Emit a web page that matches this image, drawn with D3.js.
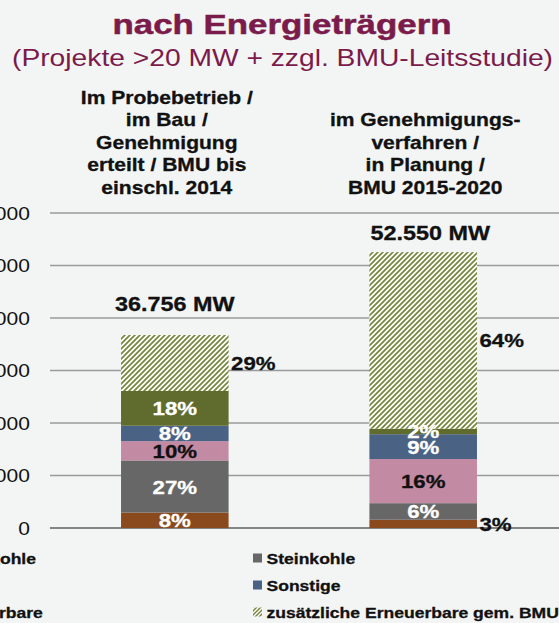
<!DOCTYPE html>
<html>
<head>
<meta charset="utf-8">
<script src="https://cdn.jsdelivr.net/npm/d3@7/dist/d3.min.js"></script>
<style>
  html, body { margin: 0; padding: 0; background: #f3f5f4; }
  svg { display: block; font-family: "Liberation Sans", Arial, Helvetica, sans-serif; }
</style>
</head>
<body>
<svg id="chart" width="559" height="623"></svg>
<script>
'use strict';

// data
var categories = ['bis2014', '2015-2020'];
var headerLines = [
  ['Im Probebetrieb /', 'im Bau /', 'Genehmigung', 'erteilt / BMU bis', 'einschl. 2014'],
  ['im Genehmigungs-', 'verfahren /', 'in Planung /', 'BMU 2015-2020']
];
var seriesNames = ['Braunkohle', 'Steinkohle', 'Erdgas', 'Sonstige', 'Erneuerbare', 'zusätzliche Erneuerbare gem. BMU'];
var braunkohle  = [2940, 1577];
var steinkohle  = [9924, 3153];
var erdgas      = [3676, 8408];
var sonstige    = [2940, 4730];
var erneuerbare = [6616, 1051];
var zusaetzlich = [10660, 33631];
var yTicks = [0, 10000, 20000, 30000, 40000, 50000, 60000];

var seriesValues = [braunkohle, steinkohle, erdgas, sonstige, erneuerbare, zusaetzlich];
var colors = ['#8a4a1e', '#666766', '#c38aa4', '#4a6384', '#5f6c2e', 'url(#hatch)'];
var legendColors = ['#8a4a1e', '#666766', '#c38aa4', '#4a6384', '#5f6c2e', 'url(#hatchSmall)'];
// which segment labels sit to the right of the bar
var outside = [[5], [0, 5]];

var SX = 1.17; // source text is stretched horizontally
var W = 559, H = 623;
var svg = d3.select('#chart');
var de = d3.formatLocale({decimal: ',', thousands: '.', grouping: [3], currency: ['', '']});
var fmt = de.format(',');

var defs = svg.append('defs');
function hatch(id, size, sw){
  var p = defs.append('pattern').attr('id', id)
    .attr('patternUnits', 'userSpaceOnUse').attr('width', size).attr('height', size);
  p.append('rect').attr('width', size).attr('height', size).attr('fill', '#ffffff');
  p.append('path')
    .attr('d', 'M0,' + size + ' L' + size + ',0 M' + (-size / 2) + ',' + (size / 2) + ' L' + (size / 2) + ',' + (-size / 2) +
      ' M' + (size / 2) + ',' + (size * 1.5) + ' L' + (size * 1.5) + ',' + (size / 2))
    .attr('stroke', '#76873d').attr('stroke-width', sw);
}
hatch('hatch', 5, 1.75);
hatch('hatchSmall', 4, 1.5);
defs.append('clipPath').attr('id', 'plotClip')
  .append('rect').attr('x', 0).attr('y', 0).attr('width', W).attr('height', 528);

svg.append('rect').attr('width', W).attr('height', H).attr('fill', '#f3f5f4');

// stretched text helper
function txt(parent, x, y, s, size, weight, fill, anchor){
  var t = parent.append('text')
    .attr('transform', 'translate(' + x + ',' + y + ') scale(' + SX + ',1)')
    .attr('font-size', size).attr('font-weight', weight)
    .attr('fill', fill).attr('text-anchor', anchor || 'middle')
    .text(s);
  if (weight === 'bold') t.attr('stroke', fill).attr('stroke-width', 0.3);
  return t;
}

// titles
svg.append('text').attr('x', 282).attr('y', 34)
  .attr('text-anchor', 'middle').attr('font-size', 28).attr('font-weight', 'bold')
  .attr('fill', '#7b1b4b').attr('stroke', '#7b1b4b').attr('stroke-width', 0.5)
  .attr('textLength', 339).attr('lengthAdjust', 'spacingAndGlyphs')
  .text('nach Energieträgern');
svg.append('text').attr('x', 282.5).attr('y', 66)
  .attr('text-anchor', 'middle').attr('font-size', 24)
  .attr('fill', '#7b1b4b').attr('textLength', 541).attr('lengthAdjust', 'spacingAndGlyphs')
  .text('(Projekte >20 MW + zzgl. BMU-Leitsstudie)');

// scales
var y = d3.scaleLinear().domain([0, 60000]).range([528, 213]);
var x = d3.scaleBand().domain(categories).range([50, 548]).paddingInner(0.567).paddingOuter(0.286);

// grid + y labels
var grid = svg.append('g');
grid.selectAll('line').data(yTicks).enter().append('line')
  .attr('x1', 50).attr('x2', W)
  .attr('y1', function(d){ return y(d); }).attr('y2', function(d){ return y(d); })
  .attr('stroke', function(d){ return d === 0 ? '#858585' : '#9a9a9a'; })
  .attr('stroke-width', function(d){ return d === 0 ? 2 : 1.4; });
yTicks.forEach(function(t){
  txt(svg, 30, y(t) + 6.5, fmt(t), 18, 'normal', '#111', 'end');
});

// headers
var headerDx = [-8, 2];
categories.forEach(function(c, i){
  var lines = headerLines[i];
  lines.forEach(function(l, j){
    var by = 193.5 - (lines.length - 1 - j) * 22.5;
    txt(svg, x(c) + x.bandwidth() / 2 + headerDx[i], by, l, 18, 'bold', '#111');
  });
});

// stack
var table = categories.map(function(c, i){
  var row = {cat: c};
  seriesNames.forEach(function(s, k){ row[s] = seriesValues[k][i]; });
  return row;
});
var stacked = d3.stack().keys(seriesNames)(table);

var bars = svg.append('g');
stacked.forEach(function(layer, k){
  bars.selectAll('rect.s' + k).data(layer).enter().append('rect')
    .attr('class', 's' + k)
    .attr('x', function(d){ return x(d.data.cat); })
    .attr('width', x.bandwidth())
    .attr('y', function(d){ return y(d[1]); })
    .attr('height', function(d){ return y(d[0]) - y(d[1]); })
    .attr('fill', colors[k]);
});

// segment labels
var inLabels = svg.append('g').attr('clip-path', 'url(#plotClip)');
var totals = categories.map(function(c, i){
  return d3.sum(seriesValues, function(v){ return v[i]; });
});
stacked.forEach(function(layer, k){
  layer.forEach(function(d, i){
    var pct = Math.round((d[1] - d[0]) / totals[i] * 100) + '%';
    var cy = (y(d[0]) + y(d[1])) / 2;
    if (outside[i].indexOf(k) >= 0) {
      txt(svg, x(d.data.cat) + x.bandwidth() + 2.5, cy + 7, pct, 19, 'bold', '#111', 'start');
    } else {
      txt(inLabels, x(d.data.cat) + x.bandwidth() / 2, cy + 7, pct, 19, 'bold',
        k === 2 ? '#111' : '#ffffff');
    }
  });
});

// totals
var totalGap = [24, 12];
var totalDx = [0, 7];
categories.forEach(function(c, i){
  txt(svg, x(c) + x.bandwidth() / 2 + totalDx[i], y(totals[i]) - totalGap[i],
    fmt(totals[i]) + ' MW', 20, 'bold', '#111');
});

// legend
var legend = svg.append('g');
seriesNames.forEach(function(s, k){
  var col = k % 2, row = Math.floor(k / 2);
  var tx = -60.5 + col * 327;
  var ly = 558 + row * 27;
  legend.append('rect').attr('x', tx - 13.5).attr('y', ly - 4.5)
    .attr('width', 9).attr('height', 9).attr('fill', legendColors[k]);
  txt(legend, tx, ly + 5.5, s, 15, 'bold', '#111', 'start');
});
</script>
</body>
</html>
